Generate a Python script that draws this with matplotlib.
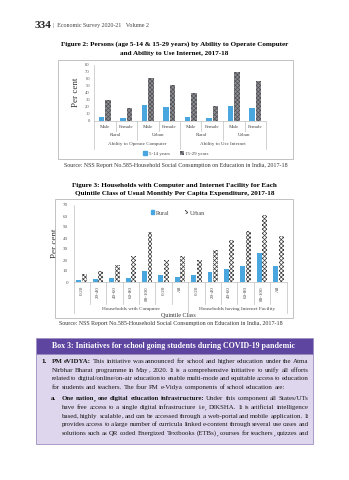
import numpy as np
import matplotlib
matplotlib.use('Agg')
import matplotlib.pyplot as plt
from matplotlib.patches import Rectangle, Patch
from matplotlib.lines import Line2D

W, H = 349, 480

# Figure 2 data: per cent of persons
fig2_sex = ['Male', 'Female', 'Male', 'Female', 'Male', 'Female', 'Male', 'Female']
fig2_area = ['Rural', 'Urban', 'Rural', 'Urban']
fig2_ability = ['Ability to Operate Computer', 'Ability to Use Internet']
age_5_14 = [4.8, 3.8, 22.5, 19.6, 5.3, 3.8, 20.6, 18.2]
age_15_29 = [29.2, 17.7, 60.8, 51.2, 39.2, 21.5, 70.0, 56.5]

# Figure 3 data: households by quintile class
quintiles = ['0-20', '20-40', '40-60', '60-80', '80-100', '0-20', 'All',
             '0-20', '20-40', '40-60', '60-80', '80-100', 'All']
fig3_groups = ['Households with Computer', 'Households having Internet Facility']
rural = [1.5, 2.4, 3.6, 3.6, 10.0, 6.4, 4.2, 6.4, 9.4, 12.1, 14.8, 26.7, 14.8]
urban = [7.3, 9.7, 15.8, 23.6, 45.5, 20.0, 23.6, 20.0, 29.0, 38.2, 46.4, 61.0, 41.8]

# box text: (number, bold lead, rest, indent level, justify)
box_lines = [
    ('1.', 'PM eVIDYA:', 'This initiative was announced for school and higher education under the Atma', 0, True),
    ('', '', 'Nirbhar Bharat programme in May, 2020. It is a comprehensive initiative to unify all efforts', 0, True),
    ('', '', 'related to digital/online/on-air education to enable multi-mode and equitable access to education', 0, True),
    ('', '', 'for students and teachers. The four PM e-Vidya components of school education are:', 0, False),
    ('a.', 'One nation, one digital education infrastructure:', 'Under this component all States/UTs', 1, True),
    ('', '', 'have free access to a single digital infrastructure i.e, DIKSHA. It is artificial intelligence', 1, True),
    ('', '', 'based, highly scalable, and can be accessed through a web-portal and mobile application. It', 1, True),
    ('', '', 'provides access to a large number of curricula linked e-content through several use cases and', 1, True),
    ('', '', 'solutions such as QR coded Energized Textbooks (ETBs), courses for teachers, quizzes and', 1, True),
]

BLUE = '#4aa6df'
GRAY = '#8c8c96'
plt.rcParams['font.family'] = 'Liberation Serif'
plt.rcParams['hatch.linewidth'] = 0.5


def fx(x):
    return x / W


def fy(y):
    return 1 - y / H


def ftext(x, y, s, **kw):
    return fig.text(fx(x), fy(y), s, **kw)


def fline(x0, y0, x1, y1, color='#bfbfbf', lw=0.5):
    fig.add_artist(Line2D([fx(x0), fx(x1)], [fy(y0), fy(y1)], color=color, lw=lw,
                          transform=fig.transFigure))


def frect(x0, y0, x1, y1, **kw):
    fig.add_artist(Rectangle((fx(x0), fy(y1)), fx(x1) - fx(x0), (y1 - y0) / H,
                             transform=fig.transFigure, **kw))


fig = plt.figure(figsize=(W / 100, H / 100), dpi=100)

# page header
ftext(35, 26, '334', fontsize=8, fontweight='bold', va='center', color='#222222')
ftext(53, 26, '|  Economic Survey 2020-21   Volume 2', fontsize=4.3, va='center', color='#444444')

# ---------------- Figure 2 ----------------
ftext(174.5, 44, 'Figure 2: Persons (age 5-14 & 15-29 years) by Ability to Operate Computer',
      fontsize=5.1, fontweight='bold', ha='center', va='center')
ftext(174.5, 53, 'and Ability to Use Internet, 2017-18',
      fontsize=5.1, fontweight='bold', ha='center', va='center')
frect(57.5, 59.5, 292.5, 159, fill=False, edgecolor='#b8b8b8', lw=0.6)

x0, x1, ytop, ybot = 94, 266, 64.5, 120.7
ax = fig.add_axes([fx(x0), fy(ybot), fx(x1) - fx(x0), (ybot - ytop) / H])
pos = np.arange(len(fig2_sex))
bw = 0.26
ax.bar(pos - 0.15, age_5_14, bw, color=BLUE, lw=0)
ax.bar(pos + 0.15, age_15_29, bw, color=GRAY, edgecolor='#505050', hatch='xxxxxxxx', lw=0)
ax.set_xlim(-0.5, len(pos) - 0.5)
ax.set_ylim(0, 80)
ax.set_yticks(range(0, 81, 10))
ax.tick_params(axis='y', labelsize=3.3, length=0, pad=3, colors='#555555')
ax.set_xticks([])
for s in ['top', 'right']:
    ax.spines[s].set_visible(False)
for s in ['left', 'bottom']:
    ax.spines[s].set_color('#bfbfbf')
    ax.spines[s].set_linewidth(0.5)
ax.set_ylabel('Per cent', fontsize=6.5, labelpad=4, color='#333333')

cw = (x1 - x0) / len(pos)
for i, lab in enumerate(fig2_sex):
    ftext(x0 + cw * (i + 0.5), 126.5, lab, fontsize=3.6, ha='center', va='center', color='#444444')
for i, lab in enumerate(fig2_area):
    ftext(x0 + cw * (2 * i + 1), 135.5, lab, fontsize=3.6, ha='center', va='center', color='#444444')
for i, lab in enumerate(fig2_ability):
    ftext(x0 + cw * (4 * i + 2), 144.5, lab, fontsize=3.6, ha='center', va='center', color='#444444')
for i in range(len(pos) + 1):
    if i % 4 == 0:
        fline(x0 + cw * i, ybot, x0 + cw * i, 149)
    elif i % 2 == 0:
        fline(x0 + cw * i, ybot, x0 + cw * i, 140)
    else:
        fline(x0 + cw * i, ybot, x0 + cw * i, 131)

leg = fig.legend([Patch(color=BLUE), Patch(facecolor=GRAY, edgecolor='#505050', hatch='xxxxxxxx', lw=0)],
                 ['5-14 years', '15-29 years'], loc='center', bbox_to_anchor=(fx(176), fy(153.5)),
                 ncol=2, frameon=False, fontsize=3.6, handlelength=0.8, handleheight=0.8,
                 handletextpad=0.3, columnspacing=2.0)
for t in leg.get_texts():
    t.set_color('#444444')

ftext(176, 165, 'Source: NSS Report No.585-Household Social Consumption on Education in India, 2017-18',
      fontsize=4.3, ha='center', va='center', color='#333333')

# ---------------- Figure 3 ----------------
ftext(174.5, 185, 'Figure 3: Households with Computer and Internet Facility for Each',
      fontsize=5.1, fontweight='bold', ha='center', va='center')
ftext(174.5, 194, 'Quintile Class of Usual Monthly Per Capita Expenditure, 2017-18',
      fontsize=5.1, fontweight='bold', ha='center', va='center')
frect(55, 199.5, 293, 318, fill=False, edgecolor='#b8b8b8', lw=0.6)

x0, x1, ytop, ybot = 73.5, 286.5, 205, 282
ax2 = fig.add_axes([fx(x0), fy(ybot), fx(x1) - fx(x0), (ybot - ytop) / H])
pos = np.arange(len(quintiles))
ax2.bar(pos - 0.17, rural, 0.3, color=BLUE, lw=0)
ax2.bar(pos + 0.17, urban, 0.3, color='white', edgecolor='#3a3a3a', hatch='xxxxxxxx', lw=0)
ax2.set_xlim(-0.5, len(pos) - 0.5)
ax2.set_ylim(0, 70)
ax2.set_yticks(range(0, 71, 10))
ax2.tick_params(axis='y', labelsize=3.6, length=0, pad=4, colors='#555555')
ax2.set_xticks([])
for s in ['top', 'right']:
    ax2.spines[s].set_visible(False)
for s in ['left', 'bottom']:
    ax2.spines[s].set_color('#bfbfbf')
    ax2.spines[s].set_linewidth(0.5)
ax2.set_ylabel('Per cent', fontsize=6.5, labelpad=3, color='#333333')

cw = (x1 - x0) / len(pos)
for i, lab in enumerate(quintiles):
    ftext(x0 + cw * (i + 0.5), 286, lab, fontsize=3.6, ha='center', va='top', rotation=90, color='#444444')
for i in range(len(pos) + 1):
    if i in (0, 7, len(pos)):
        fline(x0 + cw * i, ybot, x0 + cw * i, 313)
    else:
        fline(x0 + cw * i, ybot, x0 + cw * i, 304)
ftext(x0 + cw * 3.5, 309, fig3_groups[0], fontsize=3.8, ha='center', va='center', color='#444444')
ftext(x0 + cw * 10, 309, fig3_groups[1], fontsize=3.8, ha='center', va='center', color='#444444')
ftext(178, 315, 'Quintile Class', fontsize=4.3, ha='center', va='center', color='#333333')

leg2 = fig.legend([Patch(color=BLUE), Patch(facecolor='white', edgecolor='#3a3a3a', hatch='xxxxxxxx', lw=0)],
                  ['Rural', 'Urban'], loc='center', bbox_to_anchor=(fx(178), fy(213)),
                  ncol=2, frameon=False, fontsize=4.3, handlelength=0.6, handleheight=0.6,
                  handletextpad=0.3, columnspacing=2.5)
for t in leg2.get_texts():
    t.set_color('#444444')

ftext(171, 323, 'Source: NSS Report No.585-Household Social Consumption on Education in India, 2017-18',
      fontsize=4.3, ha='center', va='center', color='#333333')

# ---------------- Box 3 ----------------
frect(35.5, 353.5, 312.5, 444, facecolor='#ddd6ec', edgecolor='#9d8fc2', lw=0.6)
frect(35.5, 338, 312.5, 354, facecolor='#5d45a0', edgecolor='#9d8fc2', lw=0.6)
ftext(174, 346, 'Box 3: Initiatives for school going students during COVID-19 pandemic',
      fontsize=5.7, fontweight='bold', ha='center', va='center', color='white')

fig.canvas.draw()
renderer = fig.canvas.get_renderer()
fs = 4.95
right = 308.5
tmp = ftext(0, 0, 'a a', fontsize=fs)
space_w = tmp.get_window_extent(renderer).width
tmp.remove()
tmp = ftext(0, 0, 'aa', fontsize=fs)
space_w -= tmp.get_window_extent(renderer).width
tmp.remove()

ys = [363, 371.7, 380.4, 389.1, 400.3, 409, 417.7, 426.4, 435.1]
for (num, bold, rest, level, just), y in zip(box_lines, ys):
    left = 51.5 + 10 * level
    if num:
        ftext(left - 10.5, y, num, fontsize=fs, fontweight='bold', va='baseline')
    words = [(w, 'bold') for w in bold.split()] + [(w, 'normal') for w in rest.split()]
    # each word is one or two texts; a trailing comma gets its own text
    groups = []
    for w, wt in words:
        parts = [w[:-1], ','] if w.endswith(',') else [w]
        ts = [ftext(left, y, p, fontsize=fs, fontweight=wt, va='baseline', color='#1a1a1a')
              for p in parts]
        ws = [t.get_window_extent(renderer).width for t in ts]
        groups.append((ts, ws))
    total = sum(sum(ws) for _, ws in groups)
    if just and len(groups) > 1:
        gap = (right - left - total) / (len(groups) - 1)
    else:
        gap = space_w
    x = left
    for ts, ws in groups:
        for t, w in zip(ts, ws):
            t.set_x(fx(x))
            x += w
        x += gap

fig.savefig('out.png', dpi=100)
